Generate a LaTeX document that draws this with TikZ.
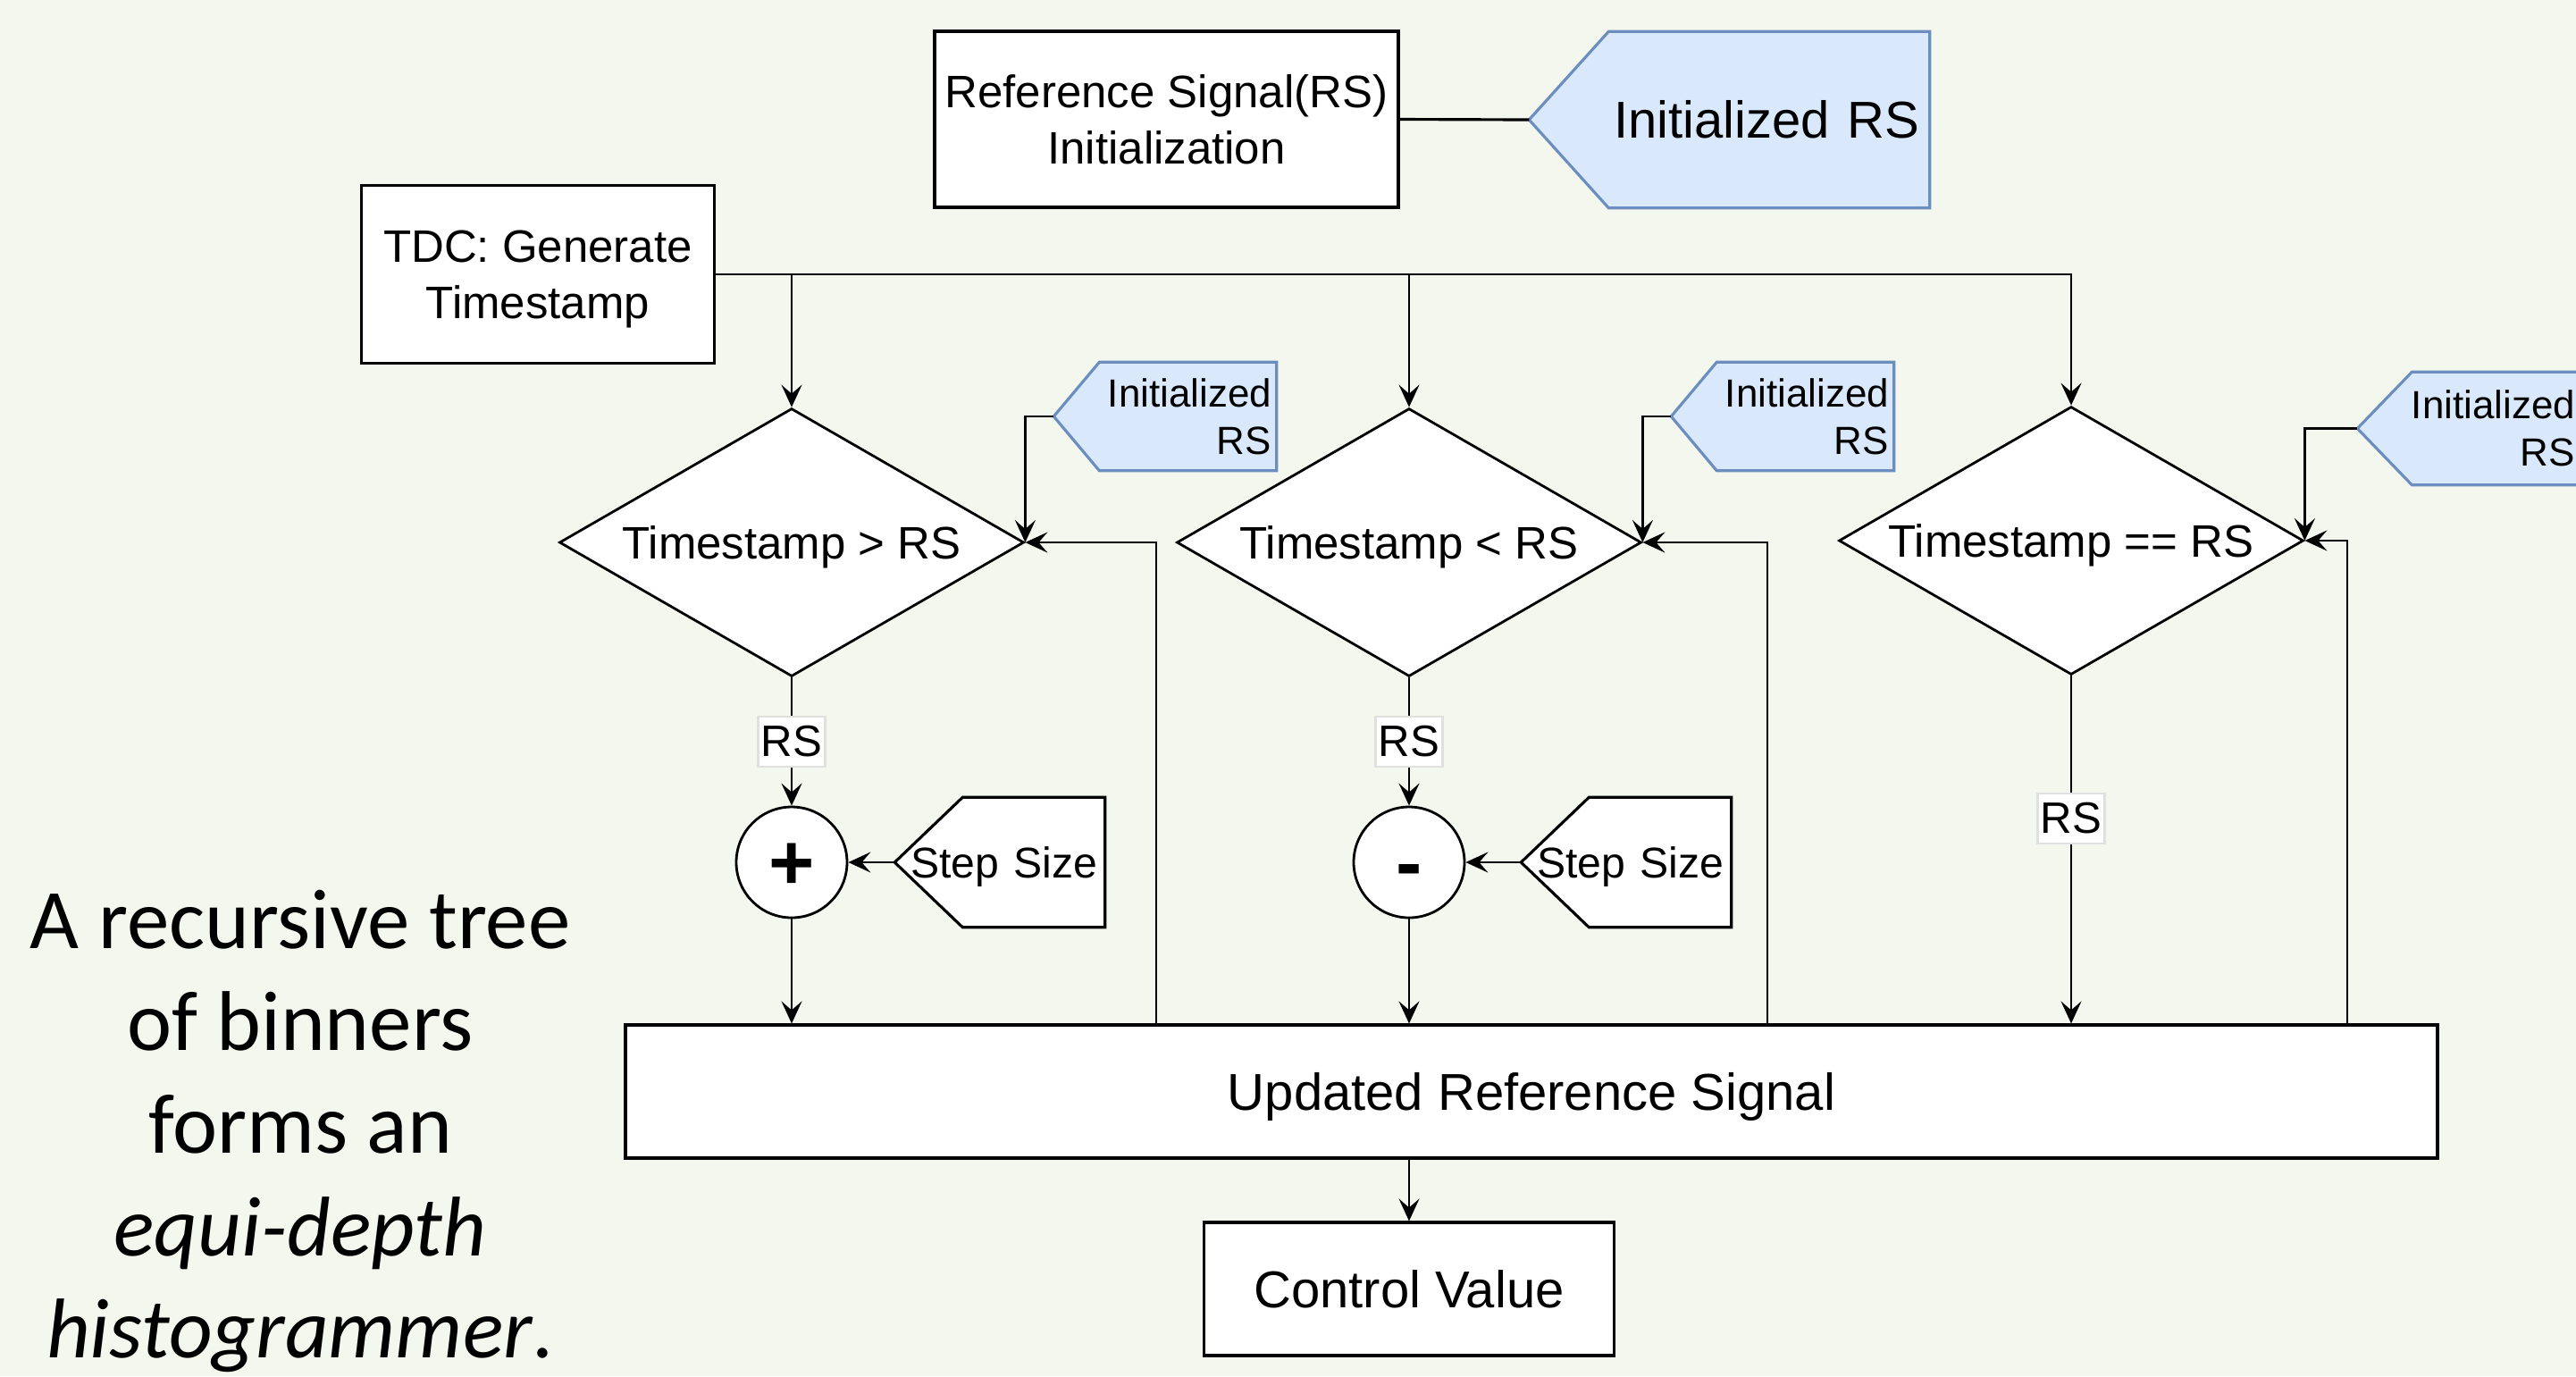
\documentclass[tikz,border=0pt]{standalone}
\usepackage{fontspec}
\setmainfont{Liberation Sans}
\newfontfamily\notefont{Carlito}
\usetikzlibrary{shapes.geometric, arrows.meta, positioning, backgrounds, calc}
\definecolor{slidebg}{HTML}{F4F7EE}
\definecolor{tagfill}{HTML}{DAE8FC}
\definecolor{tagedge}{HTML}{6C8EBF}

\begin{document}
\begin{tikzpicture}[
    box/.style={rectangle, draw, fill=white, line width=0.9pt, align=center,
                text depth=0pt, font=\fontsize{14.5}{18}\selectfont},
    decision/.style={diamond, draw, fill=white, line width=0.8pt, aspect=1.73,
                inner sep=0pt, minimum width=5.2cm, minimum height=3cm,
                text depth=0pt, font=\fontsize{14.5}{18}\selectfont},
    adder/.style={circle, draw, fill=white, line width=0.8pt, minimum size=1.24cm,
                inner sep=0pt, text height=17.5pt, text depth=0pt,
                font=\bfseries\fontsize{25}{25}\selectfont},
    tagtext/.style={rectangle, inner ysep=0pt, align=right},
    flow/.style={-{Stealth[length=2.5mm, width=2.3mm, inset=1mm]}, line width=0.7pt},
    rslabel/.style={fill=white, draw=black!12, inner xsep=1pt, inner ysep=3pt,
                font=\fontsize{14}{16}\selectfont},
]
\useasboundingbox (0,0) rectangle (28.83,-15.40);

% Initialisation
\node[box, minimum width=5.19cm, minimum height=1.97cm] (rsinit) at (13.055,-1.335)
    {Reference Signal(RS)\\Initialization};
\node[tagtext, text width=4.25cm, inner xsep=0.11cm, minimum height=1.96cm,
      font=\fontsize{16.5}{20}\selectfont] (rsval) at (19.355,-1.34) {Initialized RS};
\node[box, minimum width=3.95cm, minimum height=1.99cm] (tdc) at (6.02,-3.07)
    {TDC: Generate\\Timestamp};

% Comparators
\node[decision] (gt) at (8.86,-6.07) {Timestamp > RS};
\node[decision] (lt) at (15.77,-6.07) {Timestamp < RS};
\node[decision] (eq) at (23.18,-6.05) {Timestamp == RS};

% Initialized RS inputs
\node[tagtext, text width=2.38cm, inner xsep=0.05cm, minimum height=1.2cm,
      font=\fontsize{12.5}{15.2}\selectfont] (ini1) at (13.04,-4.66) {Initialized\\RS};
\node[tagtext, text width=2.38cm, inner xsep=0.05cm, minimum height=1.2cm,
      font=\fontsize{12.5}{15.2}\selectfont] (ini2) at (19.95,-4.66) {Initialized\\RS};
\node[tagtext, text width=2.38cm, inner xsep=0.05cm, minimum height=1.25cm,
      font=\fontsize{12.5}{15.2}\selectfont] (ini3) at (27.63,-4.795) {Initialized\\RS};

% Adders and step size
\node[adder] (plus) at (8.86,-9.65) {+};
\node[adder] (minus) at (15.77,-9.65) {-};
\node[tagtext, text width=2.18cm, inner xsep=0.08cm, minimum height=1.44cm,
      text depth=0pt, font=\fontsize{13.7}{16}\selectfont] (step1) at (11.19,-9.65) {Step Size};
\node[tagtext, text width=2.18cm, inner xsep=0.08cm, minimum height=1.44cm,
      text depth=0pt, font=\fontsize{13.7}{16}\selectfont] (step2) at (18.20,-9.65) {Step Size};

% Output
\node[box, minimum width=20.28cm, minimum height=1.49cm,
      font=\fontsize{16.5}{20}\selectfont] (upd) at (17.14,-12.215) {Updated Reference Signal};
\node[box, minimum width=4.59cm, minimum height=1.49cm,
      font=\fontsize{16.5}{20}\selectfont] (ctrl) at (15.77,-14.425) {Control Value};

% Side note
\node[font=\notefont\fontsize{27}{32.6}\selectfont, align=center] (note) at (3.36,-12.66)
    {A recursive tree\\of binners\\forms an\\\textit{equi-depth}\\\textit{histogrammer}.};

% Background and tag outlines
\begin{pgfonlayer}{background}
  \fill[slidebg] (0,0) rectangle (28.83,-15.40);
  \foreach \t/\s in {rsval/0.89, ini1/0.51, ini2/0.51, ini3/0.61}
    \draw[tagedge, fill=tagfill, line width=0.9pt] (\t.north east) -- ([xshift=\s cm]\t.north west)
      -- (\t.west) -- ([xshift=\s cm]\t.south west) -- (\t.south east) -- cycle;
  \foreach \t in {step1, step2}
    \draw[fill=white, line width=0.9pt] (\t.north east) -- ([xshift=0.76cm]\t.north west)
      -- (\t.west) -- ([xshift=0.76cm]\t.south west) -- (\t.south east) -- cycle;
\end{pgfonlayer}

% Connectors
\draw[line width=0.9pt] (rsinit.east) -- (rsval.west);
\foreach \d in {gt, lt, eq}
  \draw[flow] (tdc.east) -| (\d.north);
\foreach \i/\d in {ini1/gt, ini2/lt, ini3/eq}
  \draw[flow] (\i.west) -| (\d.east);

\coordinate (fb1) at (12.94,0);
\coordinate (fb2) at (19.78,0);
\coordinate (fb3) at (26.27,0);
\foreach \f/\d in {fb1/gt, fb2/lt, fb3/eq}
  \draw[flow] (upd.north -| \f) |- (\d.east);

\draw[flow] (gt.south) -- node[rslabel] (rs1) {RS} (plus.north);
\draw[flow] (lt.south) -- node[rslabel] (rs2) {RS} (minus.north);
\draw[flow] (step1.west) -- (plus.east);
\draw[flow] (step2.west) -- (minus.east);
\draw[flow] (plus.south) -- (plus.south |- upd.north);
\draw[flow] (minus.south) -- (minus.south |- upd.north);
\draw[flow] (eq.south) -- node[rslabel, pos=0.41] (rs3) {RS} (eq.south |- upd.north);
\draw[flow] (upd.south -| ctrl.north) -- (ctrl.north);

\end{tikzpicture}
\end{document}
